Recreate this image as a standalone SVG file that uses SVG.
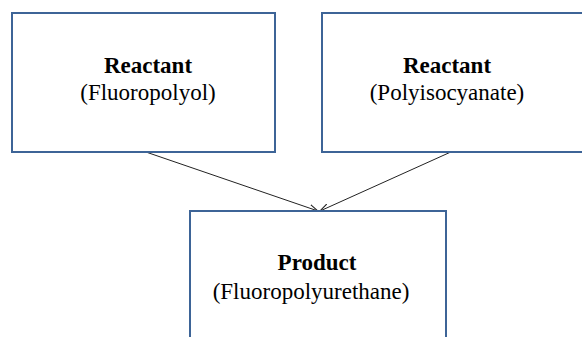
<svg xmlns="http://www.w3.org/2000/svg" width="582" height="337" viewBox="0 0 582 337">
<defs>
<style>
.box{fill:#fff;stroke:#3d6497;stroke-width:2}
.t{font-family:"Liberation Serif","Times New Roman",serif;font-size:23px;fill:#000;text-anchor:middle}
.b{font-weight:bold}
.c{stroke:#222;stroke-width:1;fill:none}
</style>
<marker id="arr" viewBox="0 0 10 10" refX="10" refY="5" markerWidth="9" markerHeight="9" markerUnits="userSpaceOnUse" orient="auto">
<path d="M0,1 L10,5 L0,9" fill="none" stroke="#222" stroke-width="1.2"/>
</marker>
</defs>
<rect width="582" height="337" fill="#fff"/>
<g id="connectors">
<line class="c" x1="143" y1="151" x2="318" y2="211" marker-end="url(#arr)"/>
<line class="c" x1="453" y1="151" x2="320" y2="211" marker-end="url(#arr)"/>
</g>
<g id="reactant1">
<rect class="box" x="12" y="13" width="263" height="139"/>
<text class="t b" x="148" y="73">Reactant</text>
<text class="t" x="148" y="100">(Fluoropolyol)</text>
</g>
<g id="reactant2">
<rect class="box" x="322" y="13" width="270" height="139"/>
<text class="t b" x="447" y="73">Reactant</text>
<text class="t" x="447" y="100">(Polyisocyanate)</text>
</g>
<g id="product">
<rect class="box" x="190" y="211" width="256" height="140"/>
<text class="t b" x="317" y="270">Product</text>
<text class="t" x="311" y="299">(Fluoropolyurethane)</text>
</g>
</svg>
